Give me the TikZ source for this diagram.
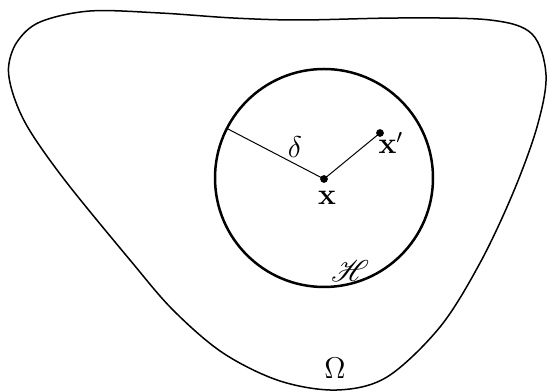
\documentclass[tikz,border=0pt]{standalone}
\usepackage{mathrsfs}

\begin{document}
\begin{tikzpicture}[x=0.4pt, y=-0.4pt,
  region/.style={line width=0.6pt},
  ball/.style={line width=1pt},
  seg/.style={line width=0.4pt},
  dot/.style={circle, fill, inner sep=0pt, minimum size=3.1pt},
  lbl/.style={font=\fontsize{12}{14}\selectfont, inner sep=0pt},
]
  \useasboundingbox (0,0) rectangle (547,391);

  % the domain Omega
  \draw[region] plot[smooth cycle, tension=0.55] coordinates {
    (8.5,68) (14,97) (30,131) (67,183) (130,260) (173,310) (223,353)
    (280,381) (337,390) (387,377) (440,327) (480,263) (513,193)
    (537,127) (546,75) (532,34) (490,20) (400,18) (300,20) (233,18)
    (160,13) (90,11) (40,22) (17,42)};

  % the ball H
  \draw[ball] (324,178) circle[radius=109];

  \node[dot] (x) at (324,179) {};
  \node[dot] (xp) at (380,133) {};
  \coordinate (rim) at (227,128.5);
  \draw[seg] (rim) -- (x.center) -- (xp.center);

  \node[lbl] (delta) at (295,147) {$\delta$};
  \node[lbl] (xlbl) at (327,198) {$\mathbf{x}$};
  \node[lbl] (xplbl) at (391,143) {$\mathbf{x}'$};
  \node[lbl] (hlbl) at (350,271) {$\mathscr{H}$};
  \node[lbl] (omega) at (335,368) {$\Omega$};
\end{tikzpicture}
\end{document}
